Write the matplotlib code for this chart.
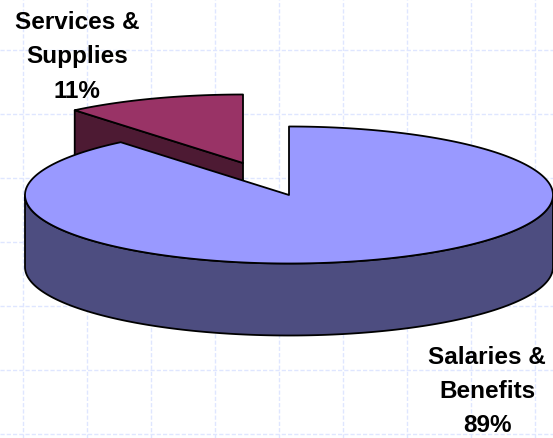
import numpy as np
import matplotlib
matplotlib.use("Agg")
import matplotlib.pyplot as plt
from matplotlib.patches import Polygon

categories = ["Salaries &\nBenefits", "Services &\nSupplies"]
shares = [89, 11]
top_colors = ["#9999FF", "#993366"]
side_colors = ["#4D4D80", "#4D1A33"]

W, H = 553, 438
fig = plt.figure(figsize=(W / 100, H / 100), dpi=100)
ax = fig.add_axes([0, 0, 1, 1])
ax.set_xlim(0, W)
ax.set_ylim(H, 0)
ax.axis("off")

# dashed backdrop grid
for x in np.arange(23, W, 64):
    ax.axvline(x, color="#DFE6FF", lw=1.0, ls=(0, (3, 1.5)), zorder=0)
for y in np.arange(50, H, 64):
    ax.axhline(y, color="#DFE6FF", lw=1.0, ls=(0, (3, 1.5)), zorder=0)

# pie geometry
rx, ry, depth = 264, 68.5, 72
centers = [(289, 195), (243, 163)]

fracs = np.array(shares) / sum(shares)
t_split = 360 * fracs[0]


def rim(c, t0, t1, n=240):
    t = np.radians(np.linspace(t0, t1, n))
    return np.column_stack([c[0] + rx * np.sin(t), c[1] - ry * np.cos(t)])


edge = dict(edgecolor="black", linewidth=1.3, joinstyle="round")

# exploded small slice
c = centers[1]
arc = rim(c, t_split, 360)
side = np.array([c, arc[0], arc[0] + [0, depth], np.array(c) + [0, depth]])
ax.add_patch(Polygon(side, closed=True, facecolor=side_colors[1], zorder=2, **edge))
ax.add_patch(Polygon(np.vstack([c, arc]), closed=True, facecolor=top_colors[1], zorder=3, **edge))

# main slice
c = centers[0]
front = rim(c, 90, 270)
ax.add_patch(Polygon(np.vstack([front, (front + [0, depth])[::-1]]), closed=True,
                     facecolor=side_colors[0], zorder=4, **edge))
arc = rim(c, 0, t_split, 480)
ax.add_patch(Polygon(np.vstack([c, arc]), closed=True, facecolor=top_colors[0], zorder=5, **edge))

# labels
font = dict(family="Liberation Sans", fontweight="bold", fontsize=17.5, color="black",
            ha="center", va="center", linespacing=1.62, zorder=6)
ax.text(487, 391.5, f"{categories[0]}\n{shares[0]}%", **font)
ax.text(77, 57, f"{categories[1]}\n{shares[1]}%", **font)

fig.savefig("out.png", dpi=100)
